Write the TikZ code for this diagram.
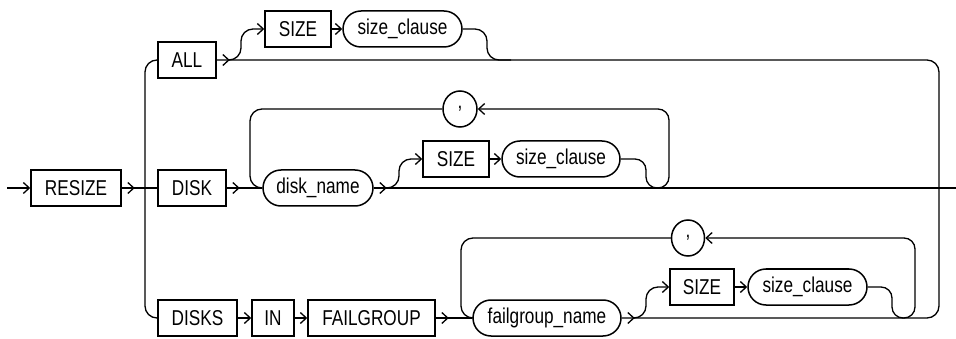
\documentclass[tikz,border=0pt]{standalone}
\usepackage{fontspec}
\setmainfont{Liberation Sans}[FakeStretch=0.8]
\usetikzlibrary{arrows.meta,shapes.misc,shapes.geometric,decorations.markings}
\begin{document}
\begin{tikzpicture}[x=1pt,y=-1pt,
  >={Straight Barb[length=6pt,width=11pt]},
  every path/.style={line width=1.3pt},
  base/.style={draw,line width=1.5pt,minimum height=36pt,inner xsep=0pt,inner ysep=0pt,
    font=\fontsize{21.5}{24}\selectfont},
  kw/.style={base,rectangle},
  nt/.style={base,rounded rectangle},
  sep/.style={base,ellipse},
  arr/.style={postaction={decorate},decoration={markings,mark=at position 13pt with {\arrow{>}}}},
  rc/.style={rounded corners=12pt},
  rcs/.style={rounded corners=11pt}]
\useasboundingbox (0,0) rectangle (956,339);
% nodes
\node[kw,minimum width=90pt] (resize) at (76,188) {RESIZE};
\node[kw,minimum width=58pt] (all) at (187,60) {ALL};
\node[kw,minimum width=66pt] (size1) at (298,29) {SIZE};
\node[nt,minimum width=119pt] (clause1) at (402.5,29) {size\_clause};
\node[kw,minimum width=68pt] (disk) at (192,188) {DISK};
\node[nt,minimum width=110pt] (diskname) at (318,188) {disk\_name};
\node[sep,minimum width=34pt] (comma1) at (460,109) {,};
\node[kw,minimum width=66pt] (size2) at (456,159) {SIZE};
\node[nt,minimum width=118pt] (clause2) at (561,159) {size\_clause};
\node[kw,minimum width=79pt] (disks) at (197.5,318) {DISKS};
\node[kw,minimum width=42pt] (in) at (273,318) {IN};
\node[kw,minimum width=127pt] (failgroup) at (371.5,318) {FAILGROUP};
\node[nt,minimum width=148pt] (fgname) at (547,318) {failgroup\_name};
\node[sep,minimum width=33pt] (comma2) at (688,238) {,};
\node[kw,minimum width=64pt] (size3) at (702,287) {SIZE};
\node[nt,minimum width=119pt] (clause3) at (807.5,287) {size\_clause};
% coordinates
\coordinate (start) at (7,188);
\coordinate (finish) at (956,188);
\coordinate (jl) at (145,188);
\coordinate (jr) at (939,188);
\coordinate (a1) at (229,60);
\coordinate (a2) at (241,29);
\coordinate (a3) at (487,60);
\coordinate (a4) at (511,60);
\coordinate (b1) at (386,188);
\coordinate (b2) at (399,159);
\coordinate (b3) at (646,188);
\coordinate (b4) at (669,109);
\coordinate (b5) at (250,188);
\coordinate (c1) at (634,318);
\coordinate (c2) at (646,287);
\coordinate (c3) at (892,318);
\coordinate (c4) at (915,238);
\coordinate (c5) at (461,318);
% main line
\draw[->] (start) -- (resize.west);
\draw[arr] (resize.east) -- (disk.west);
\draw[rc] (all.west) -| (jl) |- (disks.west);
% ALL branch
\draw[arr,rc] (all.east) -| (jr);
\draw[rc,->] (a1) -| (a2) -- (size1.west);
\draw[->] (size1.east) -- (clause1.west);
\draw[rc] (clause1.east) -| (a3) -- (a4);
% DISK branch
\draw[arr] (disk.east) -- (diskname.west);
\draw[arr] (diskname.east) -- (finish);
\draw[rc,->] (b1) -| (b2) -- (size2.west);
\draw[->] (size2.east) -- (clause2.west);
\draw[rcs,->] (clause2.east) -| (b3) -| (b4) -- (comma1.east);
\draw[rc] (comma1.west) -| (b5) -- (diskname.west);
% DISKS branch
\draw[->] (disks.east) -- (in.west);
\draw[->] (in.east) -- (failgroup.west);
\draw[arr] (failgroup.east) -- (fgname.west);
\draw[arr,rc] (fgname.east) -| (jr);
\draw[rc,->] (c1) -| (c2) -- (size3.west);
\draw[->] (size3.east) -- (clause3.west);
\draw[rcs,->] (clause3.east) -| (c3) -| (c4) -- (comma2.east);
\draw[rc] (comma2.west) -| (c5) -- (fgname.west);
\end{tikzpicture}
\end{document}
